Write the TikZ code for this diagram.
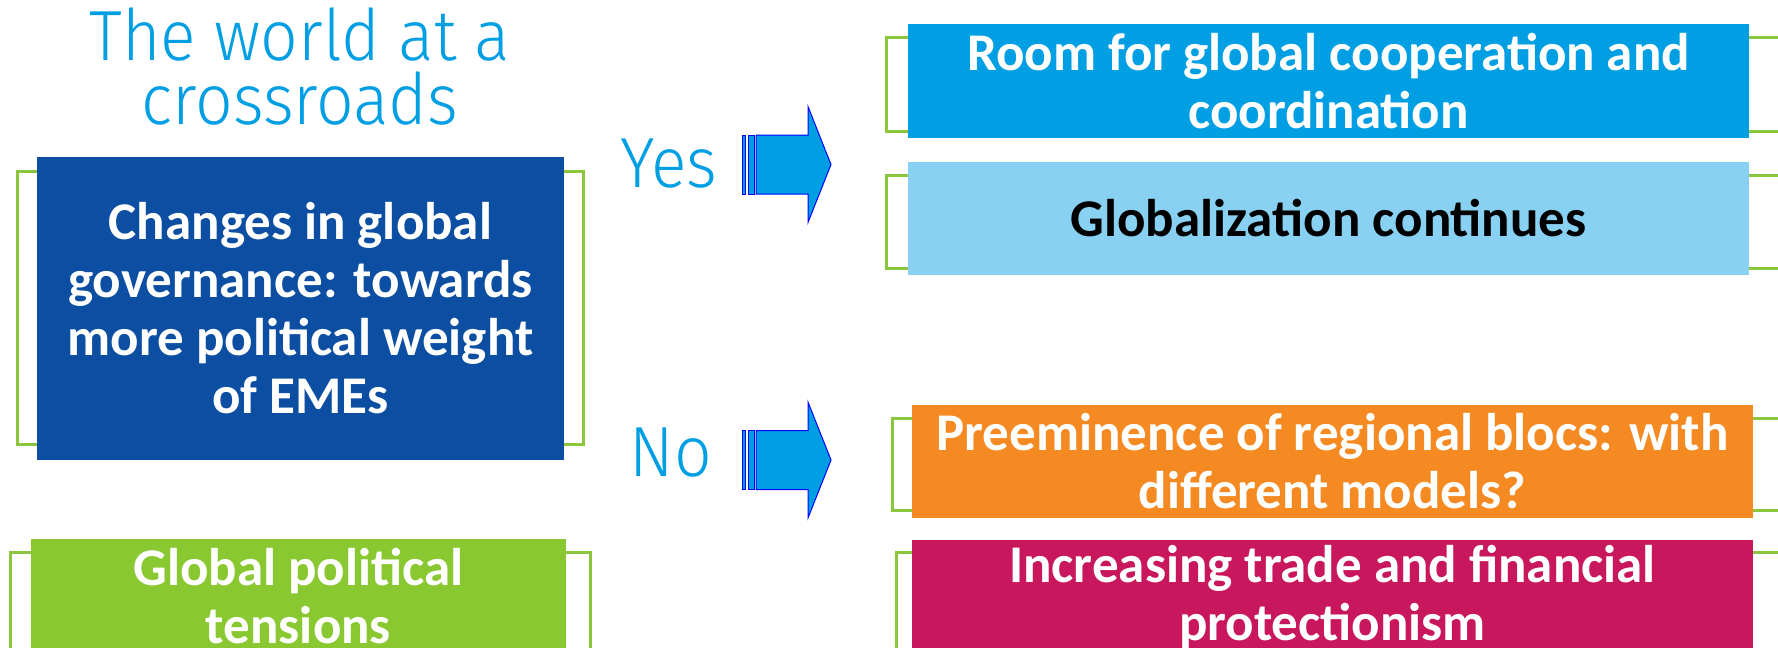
\documentclass[tikz,border=0pt]{standalone}
\usepackage{fontspec}
\setmainfont{Carlito}
\newfontfamily\lightfont[FakeStretch=0.93]{Fira Sans Light}
\usetikzlibrary{positioning}
\definecolor{govblue}{RGB}{11,78,162}
\definecolor{skyblue}{RGB}{0,159,227}
\definecolor{paleblue}{RGB}{137,209,242}
\definecolor{blocorange}{RGB}{244,138,33}
\definecolor{tradered}{RGB}{200,23,93}
\definecolor{leafgreen}{RGB}{138,200,50}
\definecolor{rimgreen}{RGB}{140,198,63}

\begin{document}
\begin{tikzpicture}[x=0.5pt, y=-0.5pt,
  box/.style={inner sep=0pt, align=center, text=white,
    font=\fontsize{26.5}{29}\selectfont\bfseries,
    minimum width=420.5pt, minimum height=57pt},
  rim/.style={draw=rimgreen, line width=1.5pt},
  arr/.style={fill=skyblue, draw=blue, line width=0.5pt},
  say/.style={text=skyblue, inner sep=0pt, align=center,
    font=\lightfont\fontsize{35.5}{32}\selectfont}]
  \useasboundingbox (0,0) rectangle (1778,648);
  \clip (0,0) rectangle (1778,648);
  % green rims behind the boxes
  \draw[rim] (17,171) rectangle (583,444);
  \draw[rim] (10,552) rectangle (590,700);
  \draw[rim] (886,37) rectangle (1800,131);
  \draw[rim] (886,175) rectangle (1800,268);
  \draw[rim] (892,418) rectangle (1800,510);
  \draw[rim] (896,552) rectangle (1800,700);
  % left column
  \node[say, anchor=base] (title) at (300,124) {The world at a\\crossroads};
  \node[box, fill=govblue, minimum width=263.5pt, minimum height=151.5pt] (gov)
    at (300.5,308.5) {Changes in global\\governance: towards\\more political weight\\of EMEs};
  \node[box, fill=leafgreen, minimum width=267.5pt] (tension) at (298.5,596)
    {Global political\\tensions};
  % right column
  \node[box, fill=skyblue] (room) at (1328.5,81)
    {Room for global cooperation and\\coordination};
  \node[box, fill=paleblue, text=black, minimum height=56.5pt, below=11.5pt of room] (glob)
    {Globalization continues};
  \node[box, fill=blocorange, minimum height=56.5pt] (blocs) at (1332.5,461.5)
    {Preeminence of regional blocs: with\\different models?};
  \node[box, fill=tradered, below=10.5pt of blocs] (protect)
    {Increasing trade and financial\\protectionism};
  % yes / no
  \node[say, anchor=base] (yes) at (669,187) {Yes};
  \node[say, anchor=base] (no) at (671,476) {No};
  \foreach \ty in {164.5, 460} {
    \filldraw[arr] (742,\ty-29.5) rectangle (745.5,\ty+29.5);
    \filldraw[arr] (748,\ty-29.5) rectangle (754,\ty+29.5);
    \filldraw[arr] (756,\ty-29.5) -- (808,\ty-29.5) -- (808,\ty-58) -- (831,\ty)
      -- (808,\ty+58) -- (808,\ty+29.5) -- (756,\ty+29.5) -- cycle;
  }
\end{tikzpicture}
\end{document}
